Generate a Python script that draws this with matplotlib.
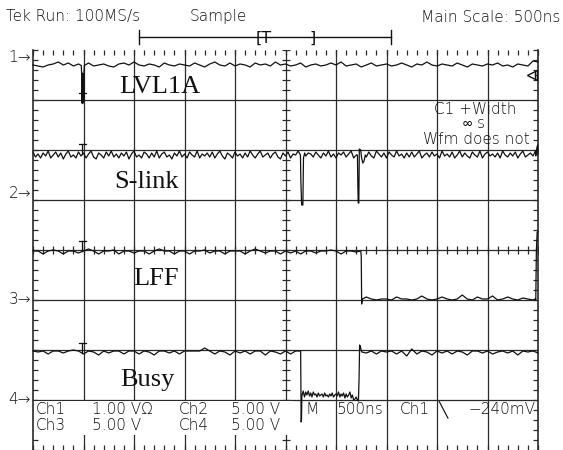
import numpy as np
import matplotlib
matplotlib.use("Agg")
import matplotlib.pyplot as plt

# ---------------- data ----------------
# time axis: 500 ns/div, 10 divisions, centre = 0 ns
t_ns = np.arange(-2500, 2501, 50)          # 50 ns sample clock (ch1, ch3, ch4)
t2_ns = np.arange(-2500, 2501, 25)         # 25 ns sample clock (ch2)

channels = ["LVL1A", "S-link", "LFF", "Busy"]
volts_per_div = [1.0, 5.0, 5.0, 5.0]
ground_div = [7.86, 5.14, 3.0, 1.0]        # ground marker position (div from bottom)

ch1_v = [
    -0.16, -0.18, -0.20, -0.16, -0.14, -0.10, -0.16, -0.12, -0.18, -0.14,
    -0.16, -0.12, -0.18, -0.16, -0.14, -0.18, -0.20, -0.14, -0.12, -0.16,
    -0.10, -0.16, -0.18, -0.14, -0.16, -0.20, -0.12, -0.16, -0.18, -0.14,
    -0.16, -0.18, -0.12, -0.16, -0.20, -0.14, -0.10, -0.16, -0.18, -0.12,
    -0.18, -0.14, -0.16, -0.20, -0.12, -0.16, -0.14, -0.18, -0.10, -0.16,
    -0.14, -0.18, -0.16, -0.12, -0.20, -0.16, -0.14, -0.18, -0.16, -0.12,
    -0.16, -0.10, -0.18, -0.16, -0.14, -0.20, -0.16, -0.12, -0.18, -0.16,
    -0.14, -0.18, -0.16, -0.12, -0.16, -0.20, -0.14, -0.16, -0.10, -0.16,
    -0.18, -0.14, -0.16, -0.18, -0.12, -0.16, -0.20, -0.14, -0.16, -0.18,
    -0.14, -0.16, -0.12, -0.18, -0.16, -0.20, -0.14, -0.16, -0.18, -0.08,
    -0.10]
ch1_pulse_t = [-2022, -2019, -2016, -2013, -2010, -2007, -2004, -2001, -1998, -1995, -1992]
ch1_pulse_v = [-0.17, -0.30, -0.92, -0.32, -0.92, -0.34, -0.92, -0.34, -0.90, -0.30, -0.17]

ch2_v = [
    4.1, 3.6, 3.9, 3.5, 4.0, 3.7, 4.2, 3.5, 3.8, 4.1,
    3.6, 4.0, 3.4, 3.9, 4.2, 3.6, 3.8, 3.5, 4.1, 3.7,
    4.0, 3.5, 3.9, 4.2, 3.6, 3.4, 4.0, 3.8, 3.5, 4.1,
    3.7, 4.2, 3.6, 3.9, 3.5, 4.0, 3.7, 4.1, 3.4, 3.9,
    4.2, 3.6, 3.8, 3.5, 4.1, 3.9, 3.5, 4.0, 3.6, 4.2,
    3.5, 3.9, 4.1, 3.6, 3.8, 3.4, 4.0, 3.7, 4.2, 3.6,
    3.9, 3.5, 4.1, 3.8, 3.6, 4.2, 3.5, 3.9, 3.7, 4.0,
    3.6, 4.1, 3.5, 3.9, 4.2, 3.7, 3.4, 4.0, 3.8, 3.5,
    4.1, 3.7, 3.9, 3.5, 4.0, 3.6, 4.2, 3.8, 3.5, 3.9,
    4.2, 3.6, 3.8, 4.0, 3.5, 3.9, 4.1, 3.6, 3.4, 4.0,
    3.7, 4.1, 3.5, 3.9, 3.8, 4.2, 3.6, 3.9, 3.7, 4.0,
    3.9, 3.6, 4.1, 3.8, 3.5, 4.0, 3.7, 4.2, 3.6, 3.9,
    3.5, 4.0, 3.8, 4.1, 3.6, 3.9, 4.2, 3.5, 3.8, 3.7,
    4.0, 3.8, 3.6, 4.1, 3.7, 3.5, 4.2, 3.9, 3.6, 4.0,
    3.5, 4.1, 3.8, 3.6, 4.2, 3.7, 3.9, 3.5, 4.0, 3.6,
    4.1, 3.6, 3.9, 4.2, 3.5, 3.8, 4.0, 3.6, 4.1, 3.7,
    3.9, 3.5, 4.2, 3.7, 3.9, 3.6, 4.1, 3.5, 3.8, 4.2,
    3.6, 4.0, 3.7, 3.5, 4.1, 3.8, 3.6, 4.2, 3.5, 3.9,
    4.1, 3.7, 3.9, 3.6, 4.0, 3.5, 4.2, 3.8, 3.6, 4.0,
    3.7, 4.1, 3.5, 3.9, 4.2, 3.6, 3.8, 4.0, 3.7, 4.2,
    4.0]
ch2_pulse1_t = [148, 152, 160, 172, 178, 190]
ch2_pulse1_v = [3.8, 1.2, -1.2, -1.2, 3.5, 4.0]
ch2_pulse2_t = [712, 716, 720, 726, 731, 745, 752, 765, 778, 790]
ch2_pulse2_v = [3.8, 1.0, -1.0, -1.0, 4.4, 4.3, 3.6, 3.0, 3.2, 3.8]
ch2_end_t = [2478, 2490, 2497, 2500]
ch2_end_v = [3.7, 4.6, 4.8, 3.9]

ch3_v = [
    4.9, 4.9, 4.6, 4.9, 5.0, 4.9, 4.6, 4.9, 4.9, 4.7,
    4.9, 5.1, 4.9, 4.6, 4.9, 4.9, 5.0, 4.6, 4.9, 4.9,
    4.7, 4.9, 4.9, 4.6, 4.9, 5.1, 4.9, 4.9, 4.6, 4.9,
    4.9, 4.6, 4.9, 4.9, 5.0, 4.7, 4.9, 4.9, 4.6, 4.9,
    4.9, 4.9, 4.6, 4.9, 5.1, 4.9, 4.7, 4.9, 4.9, 4.6,
    4.9, 4.7, 4.9, 4.6, 4.9, 4.9, 4.7, 4.9, 4.9, 5.0,
    4.9, 4.6, 4.9, 4.9, 4.8, 0.1, 0.3, 0.1, 0.0, 0.1,
    0.1, 0.0, 0.3, 0.1, 0.1, 0.0, 0.1, 0.4, 0.1, 0.0,
    0.1, 0.3, 0.1, 0.0, 0.1, 0.5, 0.1, 0.0, 0.3, 0.1,
    0.1, 0.4, 0.0, 0.1, 0.3, 0.1, 0.0, 0.2, 0.1, 0.0,
    6.8]
ch3_fall_t = [745, 750, 754, 762]
ch3_fall_v = [4.9, 4.4, -0.4, 0.1]
ch3_rise_t = [2470, 2478, 2484, 2492]
ch3_rise_v = [0.1, 0.0, 5.0, 6.8]

ch4_v = [
    4.9, 4.8, 4.9, 4.6, 4.9, 4.9, 4.7, 4.9, 5.0, 4.9,
    4.6, 4.9, 4.8, 4.5, 4.9, 4.7, 4.9, 4.9, 4.6, 4.9,
    4.9, 4.6, 4.9, 4.8, 4.5, 4.9, 4.9, 4.7, 4.9, 4.6,
    4.9, 4.9, 4.9, 4.9, 5.2, 4.9, 4.6, 4.9, 4.8, 4.5,
    4.9, 4.7, 4.9, 4.6, 4.9, 4.9, 4.5, 4.9, 4.8, 4.6,
    4.9, 4.6, 4.9, 4.9, 0.5, 0.9, 0.3, 0.8, 0.4, 0.7,
    0.4, 0.8, 0.3, 0.6, 0.1, 4.9, 4.7, 4.9, 4.6, 4.9,
    4.8, 4.9, 4.6, 4.9, 4.4, 5.1, 4.6, 4.9, 4.8, 4.5,
    4.9, 4.7, 4.9, 4.6, 4.9, 4.8, 4.5, 4.9, 4.9, 4.7,
    4.9, 4.6, 4.8, 4.9, 4.7, 4.9, 4.5, 4.9, 4.8, 4.9,
    4.7]
ch4_low_t = [150, 152, 155, 158, 162, 175, 188, 200, 212, 225, 238, 250, 262,
             275, 288, 300, 312, 325, 338, 350, 362, 375, 388, 400, 412, 425,
             438, 450, 462, 475, 488, 500, 512, 525, 538, 550, 562, 575, 588,
             600, 612, 625, 638, 650, 662, 675, 688, 700, 712, 722, 728, 734,
             742, 755]
ch4_low_v = [4.9, 2.0, -2.2, -2.0, 0.4, 0.9, 0.3, 0.8, 0.5, 0.9, 0.4, 0.7, 0.3,
             0.8, 0.5, 0.6, 0.3, 0.7, 0.4, 0.5, 0.6, 0.3, 0.7, 0.4, 0.5, 0.3,
             0.6, 0.4, 0.7, 0.3, 0.5, 0.6, 0.4, 0.8, 0.3, 0.6, 0.4, 0.7, 0.2,
             0.6, 0.3, 0.5, 0.8, 0.2, 0.5, 0.0, 0.1, 0.3, 0.0, -0.1, 2.0, 5.5,
             5.3, 4.8]

trig_level_v = -0.36      # ch1 trigger-level marker position as drawn
marker_t = -2010          # per-channel "T" marker time

# ---------------- figure ----------------
W, H = 563, 450
fig = plt.figure(figsize=(W / 100, H / 100), dpi=100)
fig.patch.set_facecolor("white")

GL, GR, GT, GB = 33, 538, 50, 450
ax = fig.add_axes([GL / W, 1 - GB / H, (GR - GL) / W, (GB - GT) / H])
ax.set_xlim(-2500, 2500)
ax.set_ylim(0, 8)
ax.set_facecolor("white")

INK = "#111111"
GRID = "#2a2a2a"

for s in ["top", "bottom"]:
    ax.spines[s].set_visible(False)
for s in ["left", "right"]:
    ax.spines[s].set_linewidth(1.2)
    ax.spines[s].set_color(GRID)

ax.set_xticks([])
ax.set_yticks([])
ax.set_xticks(np.arange(-2500, 2501, 100), minor=True)
ax.set_yticks(np.arange(0, 8.01, 0.2), minor=True)
ax.tick_params(which="minor", direction="in", length=3.5, width=0.9, color=GRID,
               top=True, bottom=True, left=True, right=True,
               labelbottom=False, labelleft=False)

for xv in np.arange(-2000, 2001, 500):
    ax.axvline(xv, color=GRID, lw=0.9, zorder=1)
for yv in range(1, 8):
    ax.axhline(yv, color=GRID, lw=0.9, zorder=1)

ct = np.arange(-2500, 2501, 100)
ax.plot(ct, np.full(len(ct), 4.0), ls="none", marker="|", ms=6, mew=0.9, color=GRID, zorder=1)
cy = np.arange(0, 8.01, 0.2)
ax.plot(np.zeros(len(cy)), cy, ls="none", marker="_", ms=6, mew=0.9, color=GRID, zorder=1)


def build(tb, vb, events):
    tb = np.asarray(tb, float)
    vb = np.asarray(vb, float)
    keep = np.ones(len(tb), bool)
    et, ev = [], []
    for t_e, v_e in events:
        keep &= ~((tb >= min(t_e)) & (tb <= max(t_e)))
        et += list(t_e)
        ev += list(v_e)
    tt = np.concatenate([tb[keep], et])
    vv = np.concatenate([vb[keep], ev])
    o = np.argsort(tt, kind="stable")
    return tt[o], vv[o]


traces = [
    build(t_ns, ch1_v, [(ch1_pulse_t, ch1_pulse_v)]),
    build(t2_ns, ch2_v, [(ch2_pulse1_t, ch2_pulse1_v), (ch2_pulse2_t, ch2_pulse2_v),
                         (ch2_end_t, ch2_end_v)]),
    build(t_ns, ch3_v, [(ch3_fall_t, ch3_fall_v), (ch3_rise_t, ch3_rise_v)]),
    build(t_ns, ch4_v, [(ch4_low_t, ch4_low_v)]),
]

for i, (tt, vv) in enumerate(traces):
    ax.plot(tt, ground_div[i] + vv / volts_per_div[i], color=INK, lw=0.9,
            zorder=4, clip_on=False)

# per-channel "T" markers sitting on each trace at the marker time
for i, (tt, vv) in enumerate(traces):
    base = ground_div[i] + np.interp(marker_t, tt, vv) / volts_per_div[i]
    ax.plot([marker_t, marker_t], [base, base + 0.2], color=INK, lw=0.9, zorder=4)
    ax.plot([marker_t - 30, marker_t + 30], [base + 0.2, base + 0.2], color=INK, lw=0.9, zorder=4)

# trigger level marker
ty = ground_div[0] + trig_level_v / volts_per_div[0]
ax.plot([2440], [ty], marker="<", ms=7, mfc="white", mec=INK, mew=1.0, zorder=5, clip_on=False)
ax.plot([2470, 2470], [ty - 0.07, ty + 0.07], color=INK, lw=1.0, zorder=5)
ax.plot([2470, 2500], [ty, ty], color=INK, lw=0.9, zorder=5)

# ---------------- overlay text (pixel coordinates) ----------------
ov = fig.add_axes([0, 0, 1, 1], zorder=10)
ov.set_xlim(0, W)
ov.set_ylim(H, 0)
ov.axis("off")
ov.patch.set_alpha(0)

SF = dict(family=["DejaVu Sans", "DejaVu Sans Mono"], fontsize=11.0,
          fontweight="light", color=INK, va="center")
ov.text(6, 17, "Tek Run: 100MS/s", ha="left", **SF)
ov.text(190, 17, "Sample", ha="left", **SF)
ov.text(560, 17, "Main Scale: 500ns", ha="right", **SF)

# record bar
ov.plot([139, 391], [37, 37], color=INK, lw=1.0)
ov.plot([139, 139], [30, 44], color=INK, lw=1.0)
ov.plot([391, 391], [30, 44], color=INK, lw=1.0)
ov.text(256, 38, "[T", ha="left", family="DejaVu Sans", fontsize=11.5, color=INK, va="center")
ov.text(309, 38, "]", ha="left", family="DejaVu Sans", fontsize=11.5, color=INK, va="center")

# channel ground markers
for lab, gd in zip(["1", "2", "3", "4"], ground_div):
    ypix = GB - gd * (GB - GT) / 8
    ov.text(31, ypix, lab + "\u2192", ha="right", **SF)

# waveform labels
LF = dict(family="Liberation Serif", fontsize=19, color=INK, ha="center", va="center")
ov.text(160, 87, channels[0], **LF)
ov.text(147, 182, channels[1], **LF)
ov.text(156, 279, channels[2], **LF)
ov.text(147, 380, channels[3], **LF)

# measurement readout
ov.text(475, 109, "C1 +Width", ha="center", **SF)
ov.text(474, 124, "\u221e s", ha="center", **SF)
ov.text(476, 139, "Wfm does not", ha="center", **SF)

# bottom readout
ov.add_patch(plt.Rectangle((34, 401), 259, 34, facecolor="white", edgecolor="none", zorder=0))
row1, row2 = 410, 425
ov.text(36, row1, "Ch1", ha="left", **SF)
ov.text(92, row1, "1.00 V\u03a9", ha="left", **SF)
ov.text(179, row1, "Ch2", ha="left", **SF)
ov.text(231, row1, "5.00 V", ha="left", **SF)
ov.text(305, row1, "M", ha="left", **SF)
ov.text(336, row1, "500ns", ha="left", **SF)
ov.text(400, row1, "Ch1", ha="left", **SF)
ov.text(439, row1, "\u2572", ha="left", **SF)
ov.text(535, row1, "\u2212240mV", ha="right", **SF)
ov.text(36, row2, "Ch3", ha="left", **SF)
ov.text(92, row2, "5.00 V", ha="left", **SF)
ov.text(179, row2, "Ch4", ha="left", **SF)
ov.text(231, row2, "5.00 V", ha="left", **SF)

fig.savefig("out.png", dpi=100, facecolor="white")
